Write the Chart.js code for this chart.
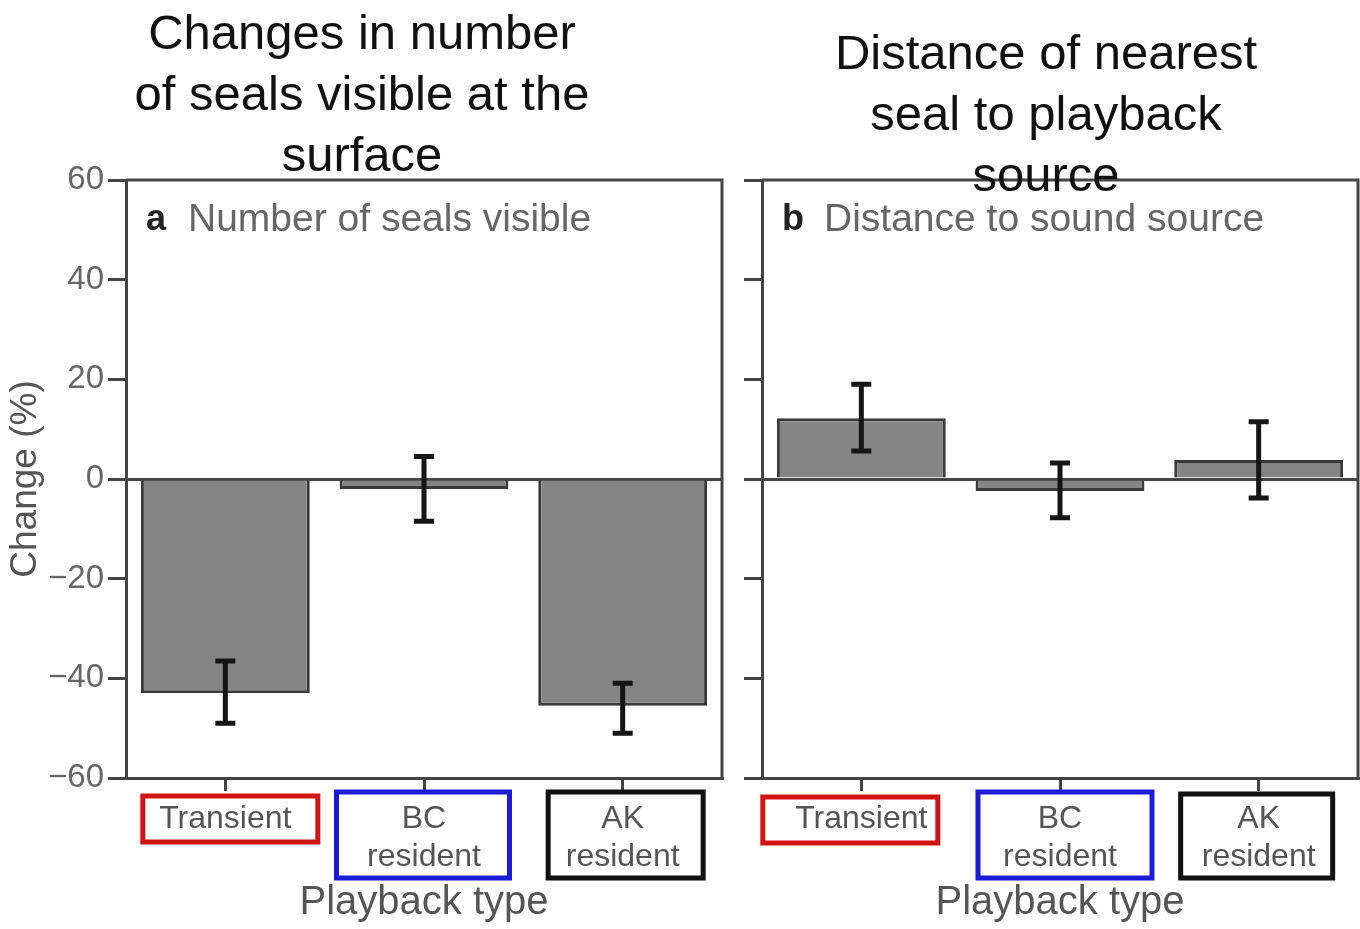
<!DOCTYPE html>
<html>
<head>
<meta charset="utf-8">
<script src="https://cdn.jsdelivr.net/npm/chart.js@4.4.1/dist/chart.umd.min.js"></script>
<style>
  body { margin: 0; background: #fff; width: 1360px; height: 929px; position: relative; overflow: hidden; font-family: "Liberation Sans", Arial, sans-serif; }
  canvas { position: absolute; top: 0; }
  #c1 { left: 0; }
  #c2 { left: 740px; }
  .title { position: absolute; text-align: center; font-size: 49px; line-height: 61px; color: #111; z-index: 2; width: 600px; }
  #t1 { left: 62px; top: 2px; }
  #t2 { left: 746px; top: 22px; }
</style>
</head>
<body>
<div class="title" id="t1">Changes in number<br>of seals visible at the<br>surface</div>
<div class="title" id="t2">Distance of nearest<br>seal to playback<br>source</div>
<canvas id="c1" width="740" height="929"></canvas>
<canvas id="c2" width="620" height="929"></canvas>
<script>
// data
const categories = ["Transient", ["BC", "resident"], ["AK", "resident"]];
const sealsMean = [-43, -2, -45.5];
const sealsLow = [-49, -8.5, -51];
const sealsHigh = [-36.5, 4.5, -41];
const distMean = [12.2, -2.4, 3.8];
const distLow = [5.6, -7.8, -3.8];
const distHigh = [19, 3.2, 11.5];
const yTicks = [-60, -40, -20, 0, 20, 40, 60];

const boxColors = ["#d01414", "#1c1cd8", "#111111"];
const dark = "#444";
const fam = "'Liberation Sans', Arial, sans-serif";

function errorBars(low, high) {
  return {
    id: "errorBars",
    afterDatasetsDraw(chart) {
      const ctx = chart.ctx, x = chart.scales.x, y = chart.scales.y;
      ctx.save();
      ctx.strokeStyle = "#151515";
      ctx.lineWidth = 5;
      low.forEach((v, i) => {
        const px = x.getPixelForValue(i);
        const y0 = y.getPixelForValue(v), y1 = y.getPixelForValue(high[i]);
        ctx.beginPath();
        ctx.moveTo(px, y0); ctx.lineTo(px, y1);
        ctx.moveTo(px - 10, y0); ctx.lineTo(px + 10, y0);
        ctx.moveTo(px - 10, y1); ctx.lineTo(px + 10, y1);
        ctx.stroke();
      });
      ctx.restore();
    }
  };
}

// frame, panel label and the coloured boxes round the category labels
function decorations(letter, label, boxes) {
  return {
    id: "decorations",
    afterDraw(chart) {
      const ctx = chart.ctx, a = chart.chartArea, x = chart.scales.x;
      ctx.save();
      ctx.strokeStyle = dark;
      ctx.lineWidth = 3;
      ctx.beginPath();
      ctx.moveTo(a.left, a.top); ctx.lineTo(a.right, a.top); ctx.lineTo(a.right, a.bottom);
      ctx.stroke();

      ctx.textBaseline = "middle";
      ctx.font = "bold 36px " + fam;
      ctx.fillStyle = "#222";
      ctx.fillText(letter, a.left + 20, a.top + 40);
      ctx.font = "39px " + fam;
      ctx.fillStyle = "#666";
      ctx.fillText(label, a.left + 62, a.top + 40);

      boxes.forEach((b, i) => {
        const cx = x.getPixelForTick(i) + b.dx;
        ctx.strokeStyle = boxColors[i];
        ctx.lineWidth = 5;
        ctx.strokeRect(cx - b.w / 2, b.top, b.w, b.h);
      });
      ctx.restore();
    }
  };
}

function makeChart(id, mean, low, high, opts) {
  return new Chart(document.getElementById(id), {
    type: "bar",
    data: {
      labels: categories,
      datasets: [{
        data: mean,
        backgroundColor: "#858585",
        borderColor: "#3a3a3a",
        borderWidth: 3,
        barPercentage: 0.85,
        categoryPercentage: 1
      }]
    },
    options: {
      responsive: false,
      animation: false,
      devicePixelRatio: 1,
      layout: { padding: { top: 180, right: opts.right, left: 0, bottom: 0 } },
      plugins: { legend: { display: false }, tooltip: { enabled: false } },
      scales: {
        x: {
          afterFit(s) { s.height = 151; },
          grid: { offset: false, drawOnChartArea: false, tickLength: 13, tickColor: dark, lineWidth: 3 },
          border: { color: dark, width: 3 },
          ticks: { color: "#555", padding: 10, font: { size: 32, family: fam, lineHeight: 1.16 } },
          title: { display: true, text: "Playback type", color: "#555", padding: { top: 0, bottom: 2 }, font: { size: 40, family: fam } }
        },
        y: {
          min: -60, max: 60,
          afterFit(s) { s.width = opts.yWidth; },
          afterBuildTicks(s) { s.ticks = yTicks.map(v => ({ value: v })); },
          grid: {
            color: c => (c.tick && c.tick.value === 0 ? dark : "rgba(0,0,0,0)"),
            tickColor: dark, tickLength: 18, lineWidth: 3
          },
          border: { color: dark, width: 3 },
          ticks: {
            color: "#666", padding: 4,
            font: { size: 33, family: fam },
            callback: v => (opts.showLabels ? String(v).replace("-", "\u2212") : "")
          },
          title: { display: opts.showLabels, text: "Change (%)", color: "#555", padding: { top: 4, bottom: 0 }, font: { size: 37, family: fam } }
        }
      }
    },
    plugins: [errorBars(low, high), decorations(opts.letter, opts.label, opts.boxes)]
  });
}

makeChart("c1", sealsMean, sealsLow, sealsHigh, {
  right: 18, yWidth: 126, showLabels: true, letter: "a", label: "Number of seals visible",
  boxes: [{ dx: 5, w: 175, top: 796, h: 46 }, { dx: -1, w: 173, top: 792, h: 86 }, { dx: 3, w: 155, top: 792, h: 86 }]
});
makeChart("c2", distMean, distLow, distHigh, {
  right: 2, yWidth: 22, showLabels: false, letter: "b", label: "Distance to sound source",
  boxes: [{ dx: -11, w: 175, top: 797, h: 46 }, { dx: 5, w: 174, top: 792, h: 86 }, { dx: -2, w: 152, top: 794, h: 84 }]
});
</script>
</body>
</html>
